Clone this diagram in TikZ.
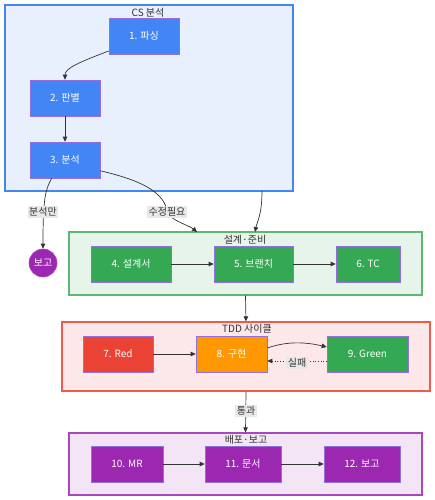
\documentclass[tikz,border=0pt]{standalone}
\usepackage{fontspec}
\setmainfont{Noto Sans CJK KR}
\usetikzlibrary{arrows.meta,calc}
\definecolor{cblue}{HTML}{4285F4}
\definecolor{cbluebg}{HTML}{E8F0FE}
\definecolor{cgreen}{HTML}{34A853}
\definecolor{cgreenbg}{HTML}{E6F4EA}
\definecolor{cgreenln}{HTML}{5BB974}
\definecolor{cred}{HTML}{EA4335}
\definecolor{credbg}{HTML}{FCE8E8}
\definecolor{credln}{HTML}{EE5A50}
\definecolor{corange}{HTML}{FF9800}
\definecolor{cpurple}{HTML}{9C27B0}
\definecolor{cpurplebg}{HTML}{F3E5F5}
\definecolor{cpurpleln}{HTML}{AB47BC}
\definecolor{nodeln}{HTML}{9370DB}
\definecolor{edgeln}{HTML}{333333}
\definecolor{lblbg}{HTML}{E8E8E8}
\tikzset{
  box/.style={rectangle, draw=nodeln, line width=0.6pt, text=white, font=\fontsize{10}{12}\selectfont, minimum height=36pt, inner sep=0pt},
  cluster/.style={rectangle, line width=1.3pt, inner sep=0pt},
  ctitle/.style={text=edgeln, font=\fontsize{10}{12}\selectfont, inner sep=0pt},
  arr/.style={draw=edgeln, line width=0.7pt, -{Triangle[length=5pt,width=4.5pt]}},
  elabel/.style={fill=lblbg, text=edgeln, font=\fontsize{10}{12}\selectfont, inner sep=1.5pt},
}
\begin{document}
\begin{tikzpicture}[x=1pt,y=-1pt]
\useasboundingbox (0,0) rectangle (435,500);
% clusters
\node[cluster, draw=cblue, fill=cbluebg, minimum width=288pt, minimum height=186pt] (cs) at (149,98) {};
\node[ctitle] (cst) at (148,13) {CS 분석};
\node[cluster, draw=cgreenln, fill=cgreenbg, minimum width=353pt, minimum height=63pt] (design) at (245.5,263.5) {};
\node[ctitle] (dst) at (245,240) {설계·준비};
\node[cluster, draw=credln, fill=credbg, minimum width=368pt, minimum height=69pt] (tdd) at (246,356.5) {};
\node[ctitle] (tddt) at (247,329) {TDD 사이클};
\node[cluster, draw=cpurpleln, fill=cpurplebg, minimum width=353pt, minimum height=62pt] (dep) at (245.5,464) {};
\node[ctitle] (dept) at (246,440) {배포·보고};
% nodes
\node[box, fill=cblue, minimum width=70pt] (n1) at (144,36) {1. 파싱};
\node[box, fill=cblue, minimum width=70pt] (n2) at (65,98) {2. 판별};
\node[box, fill=cblue, minimum width=70pt] (n3) at (65,160) {3. 분석};
\node[circle, fill=cpurple, draw=cpurpleln, line width=0.6pt, minimum size=28pt, inner sep=0pt, text=white, font=\fontsize{10}{12}\selectfont] (bogo) at (43,263) {보고};
\node[box, fill=cgreen, minimum width=80pt] (n4) at (131,264) {4. 설계서};
\node[box, fill=cgreen, minimum width=79pt] (n5) at (253.5,264) {5. 브랜치};
\node[box, fill=cgreen, minimum width=64pt] (n6) at (368,264) {6. TC};
\node[box, fill=cred, minimum width=70pt] (n7) at (118,354) {7. Red};
\node[box, fill=corange, minimum width=71pt] (n8) at (231.5,354) {8. 구현};
\node[box, fill=cgreen, minimum width=81pt] (n9) at (367.5,354) {9. Green};
\node[box, fill=cpurple, minimum width=72pt] (n10) at (127,464) {10. MR};
\node[box, fill=cpurple, minimum width=76pt] (n11) at (243,464) {11. 문서};
\node[box, fill=cpurple, minimum width=76pt] (n12) at (362,464) {12. 보고};
% coordinates
\coordinate (csout) at (262,191);
\coordinate (din1) at (197,232);
\coordinate (din2) at (255,232);
\coordinate (l2p) at (167,212);
% edges
\draw[arr] (n1.203) .. controls (80,62) and (65,68) .. (n2.north);
\draw[arr] (n2) -- (n3);
\draw[arr] (n3.234) .. controls (45,190) and (43,200) .. (bogo.north);
\draw[arr] (n3.343) .. controls (140,180) and (165,192) .. (l2p) .. controls (170,220) and (190,226) .. (din1);
\draw[arr] (csout) .. controls (262,215) and (257,222) .. (din2);
\draw[arr] (n4) -- (n5);
\draw[arr] (n5) -- (n6);
\draw[arr] (design.south) -- (tdd.north);
\draw[arr] (n7) -- (n8);
\draw[arr] (n8.east |- 0,348) .. controls (290,340) and (310,343) .. (n9.west |- 0,347);
\draw[arr, dotted] (n9.west |- 0,361) -- (n8.east |- 0,361);
\draw[arr] (tdd.south) -- (dep.north);
\draw[arr] (n10) -- (n11);
\draw[arr] (n11) -- (n12);
% labels
\node[elabel] (l1) at (43,212) {분석만};
\node[elabel] (l2) at (l2p) {수정필요};
\node[elabel] (l3) at (297,363) {실패};
\node[elabel] (l4) at (246,411) {통과};
\end{tikzpicture}
\end{document}
